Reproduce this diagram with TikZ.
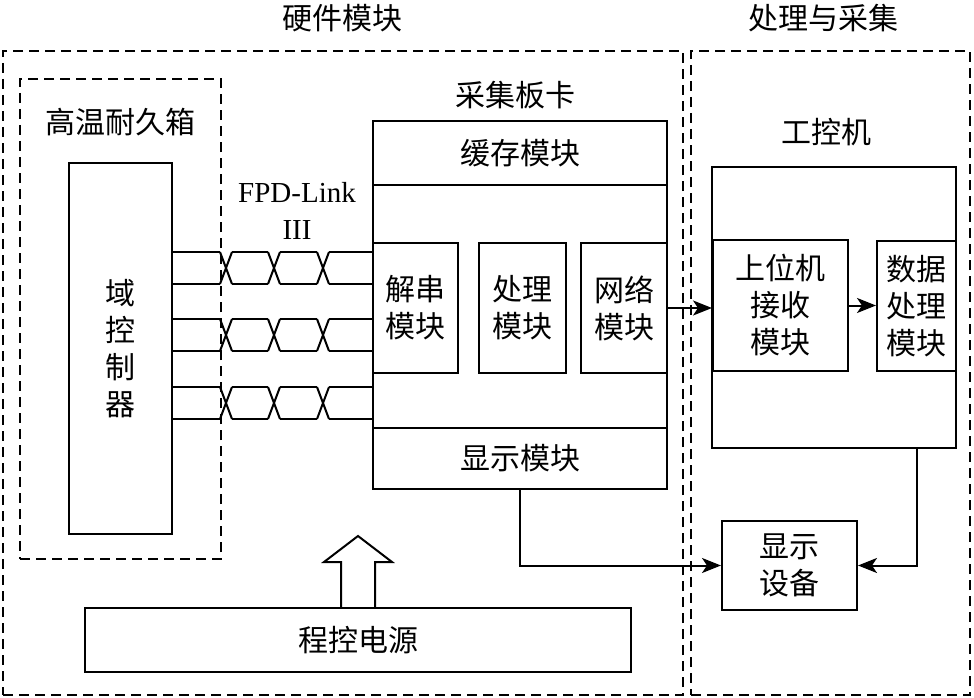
\documentclass[tikz,border=0pt]{standalone}
\usepackage{fontspec}
\setmainfont{Liberation Serif}
\newfontfamily\cjk{Noto Sans CJK SC}
\usetikzlibrary{arrows.meta}
\begin{document}
\begin{tikzpicture}[x=1pt,y=-1pt, line width=2pt, line join=miter,
		>={Stealth[length=19pt,width=15pt,inset=5pt]},
		font=\cjk\fontsize{30}{37}\selectfont,
		blk/.style={draw, inner sep=0pt, align=center},
		grp/.style={draw, dash pattern=on 10pt off 6pt, line width=1.8pt, inner sep=0pt}]
	\useasboundingbox (0,0) rectangle (974,698);
	% dashed groups
	\node[grp, minimum width=680, minimum height=644] (hw) at (343,373) {};
	\node[grp, minimum width=279, minimum height=644] (pc) at (830.5,373) {};
	\node[grp, minimum width=201, minimum height=480] (oven) at (120.5,319) {};
	\node (hwlab) at (342,18) {硬件模块};
	\node (pclab) at (823,18) {处理与采集};
	\node (ovenlab) at (120,122) {高温耐久箱};
	% left side
	\node[blk, minimum width=103, minimum height=371] (dom) at (120.5,348.5) {域\\控\\制\\器};
	\node[blk, minimum width=294, minimum height=368] (board) at (520,305) {};
	\node (boardlab) at (515,95) {采集板卡};
	\node[blk, minimum width=294, minimum height=64] (cache) at (520,153) {缓存模块};
	\node[blk, minimum width=294, minimum height=61] (disp) at (520,458.5) {显示模块};
	\node[blk, minimum width=85, minimum height=130] (deser) at (415.5,308) {解串\\模块};
	\node[blk, minimum width=87, minimum height=130] (proc) at (522.5,308) {处理\\模块};
	\node[blk, minimum width=86, minimum height=130] (net) at (624,308) {网络\\模块};
	\node[blk, minimum width=546, minimum height=64] (psu) at (358,640) {程控电源};
	\node[font=\rmfamily\fontsize{29}{37}\selectfont, align=center] (fpd) at (297,211) {FPD-Link\\III};
	% right side
	\node[blk, minimum width=244, minimum height=281] (ipc) at (834,307.5) {};
	\node (ipclab) at (826,132) {工控机};
	\node[blk, minimum width=135, minimum height=131] (recv) at (780.5,305.5) {上位机\\接收\\模块};
	\node[blk, minimum width=79, minimum height=130] (dproc) at (916.5,306) {数据\\处理\\模块};
	\node[blk, minimum width=135, minimum height=89] (dev) at (789.5,565.5) {显示\\设备};
	% twisted pairs
	\foreach \t in {252,319,387}{
		\pgfmathsetmacro\b{\t+32}
		\foreach \y in {\t,\b}
			\draw (dom.east |- 0,\y) -- (220,\y) (232,\y) -- (268,\y) (280,\y) -- (317,\y) (329,\y) -- (board.west |- 0,\y);
		\foreach \c in {220,268,317}
			\draw (\c,\t) -- (\c+12,\b) (\c,\b) -- (\c+12,\t);
	}
	% connectors
	\draw[->] (net.east) -- (net.east -| recv.west);
	\draw[->] (recv.east) -- (recv.east -| dproc.west);
	\draw[->] (disp.south) |- (dev.west);
	\draw[->] (ipc.south -| dproc.south) |- (dev.east);
	\draw (psu.north) ++(-17,0) -- ++(0,-45) -- ++(-17,0) -- ++(34,-26) -- ++(34,26) -- ++(-17,0) -- ++(0,45);
\end{tikzpicture}
\end{document}
